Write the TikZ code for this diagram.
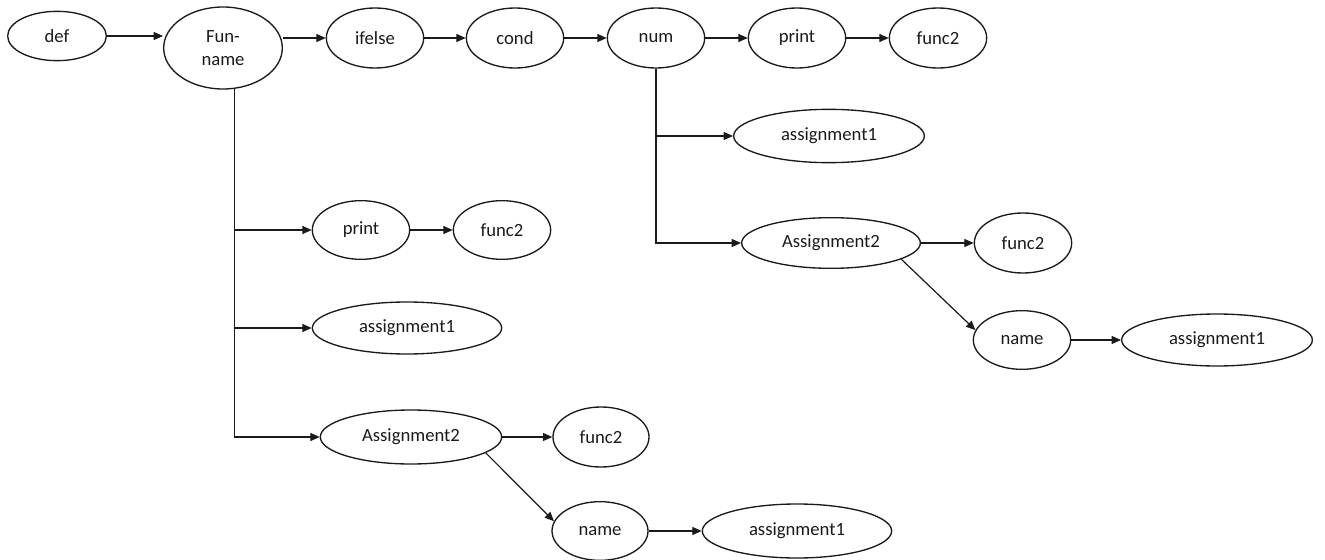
\documentclass[tikz,border=0pt]{standalone}
\usepackage{fontspec}
\setmainfont{Carlito}
\usetikzlibrary{
  arrows.meta,
  shapes.geometric,
  positioning,
  calc
}
\definecolor{astInk}{HTML}{1A1A1A}
\tikzset{
  astnode/.style={
    draw=astInk, ellipse, line width=1pt, inner sep=0pt,
    minimum width=73pt, minimum height=45pt,
    font=\fontsize{14}{17}\selectfont, text=astInk, align=center
  },
  astwide/.style={astnode, minimum width=143pt, minimum height=40pt},
  link/.style={-{Triangle[length=7pt, width=6pt]}, line width=0.9pt, astInk}
}

\begin{document}
\begin{tikzpicture}[x=0.75pt, y=-0.75pt]
  \useasboundingbox (0,0) rectangle (1325,560);
  % main chain
  \node[astnode, minimum width=74pt, minimum height=37pt] (def) at (57,36) {def};
  \node[astnode, minimum width=89pt, minimum height=61.5pt] (fun) at (223,48) {Fun-\\name};
  \node[astnode] (ifelse) at (375,38) {ifelse};
  \node[astnode] (cond) at (515,38) {cond};
  \node[astnode] (num) at (656,38) {num};
  \node[astnode] (prnTop) at (797,38) {print};
  \node[astnode] (fncTop) at (938,38) {func2};
  \draw[link] (def.east) -- (def.east -| fun.west);
  \draw[link] (fun.east |- ifelse.west) -- (ifelse.west);
  \draw[link] (ifelse) -- (cond);
  \draw[link] (cond) -- (num);
  \draw[link] (num) -- (prnTop);
  \draw[link] (prnTop) -- (fncTop);
  % branch under Fun-name
  \node[astnode, minimum height=44pt] (prnL) at (361,230) {print};
  \node[astnode, minimum height=44pt] (fncL) at (502,230) {func2};
  \node[astwide, minimum width=142pt, minimum height=39pt] (asgOneL) at (407,328) {assignment1};
  \node[astwide, minimum width=136pt, minimum height=40.5pt] (asgTwoL) at (411,437) {Assignment2};
  \node[astnode, minimum width=72pt] (fncL2) at (601,437) {func2};
  \node[astnode, minimum width=72pt, minimum height=44pt] (nameL) at (600,531) {name};
  \node[astwide, minimum width=142pt, minimum height=40.5pt] (asgOneL2) at (797,531) {assignment1};
  \draw[link] (fun.-74) |- (asgTwoL);
  \draw[link] (fun.-74 |- prnL) -- (prnL);
  \draw[link] (fun.-74 |- asgOneL) -- (asgOneL);
  \draw[link] (prnL) -- (fncL);
  \draw[link] (asgTwoL) -- (fncL2);
  \draw[link] (asgTwoL.-12) -- (nameL.168);
  \draw[link] (nameL) -- (asgOneL2);
  % branch under num
  \node[astwide] (asgOneR) at (829,136) {assignment1};
  \node[astwide, minimum width=134pt, minimum height=38pt] (asgTwoR) at (831,243) {Assignment2};
  \node[astnode] (fncR) at (1023,243) {func2};
  \node[astnode, minimum height=44pt] (nameR) at (1022,340) {name};
  \node[astwide, minimum height=39pt] (asgOneR2) at (1217,340) {assignment1};
  \draw[link] (num.south) |- (asgTwoR);
  \draw[link] (num.south |- asgOneR) -- (asgOneR);
  \draw[link] (asgTwoR) -- (fncR);
  \draw[link] (asgTwoR.-13) -- (nameR.168);
  \draw[link] (nameR) -- (asgOneR2);
\end{tikzpicture}
\end{document}
